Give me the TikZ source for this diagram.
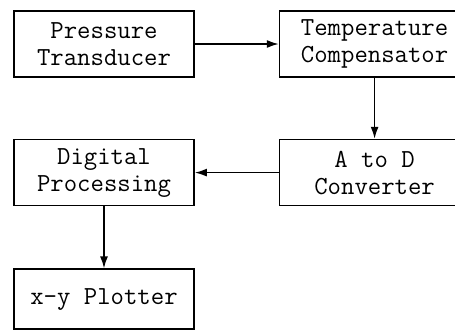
\documentclass[tikz,border=0pt]{standalone}
\usepackage{fontspec}
\usetikzlibrary{arrows.meta, positioning}

\begin{document}
\begin{tikzpicture}[
      x=1pt, y=1pt,
      node distance=61pt and 84pt,
      block/.style={rectangle, draw, line width=1.6pt, minimum width=180pt, minimum height=66pt, align=center, inner sep=0pt, font=\ttfamily\fontsize{26}{27}\selectfont},
      wide/.style={minimum width=190pt},
      arrow/.style={-{Latex[length=12pt,width=8pt]}, line width=1.6pt}
    ]
    \useasboundingbox (0,0) rectangle (455,-335);

    \node[block] (press) at (104,-44) {Pressure\\Transducer};
    \node[block, wide, right=of press] (temp) {Temperature\\Compensator};
    \node[block, wide, below=of temp] (atod) {A to D\\Converter};
    \node[block, left=of atod] (dig) {Digital\\Processing};
    \node[block, below=62pt of dig, minimum height=60pt] (plot) {x-y Plotter};

    \draw[arrow] (press) -- (temp);
    \draw[arrow] (temp) -- (atod);
    \draw[arrow] (atod) -- (dig);
    \draw[arrow] (dig) -- (plot);
  \end{tikzpicture}
\end{document}
